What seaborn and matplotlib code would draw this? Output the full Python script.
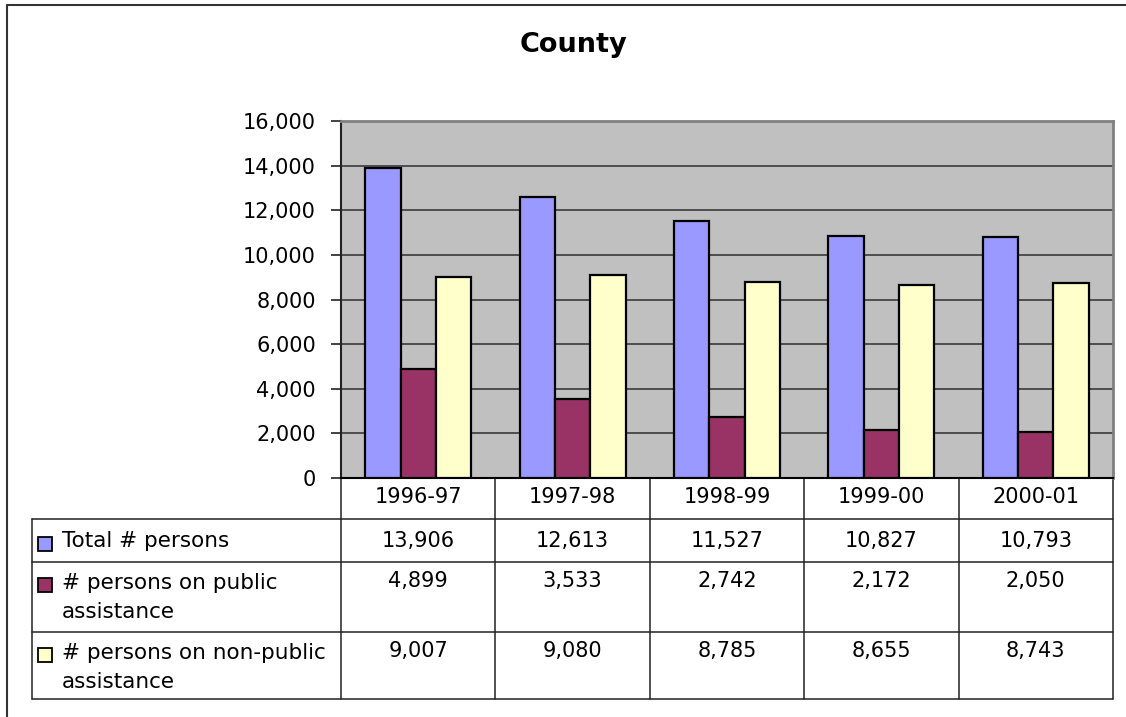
import matplotlib
matplotlib.use("Agg")
import matplotlib.pyplot as plt
import matplotlib.transforms as mtransforms
from matplotlib.lines import Line2D
from matplotlib.patches import Rectangle
from matplotlib.ticker import FuncFormatter
import pandas as pd
import seaborn as sns

# Data
years = ['1996-97', '1997-98', '1998-99', '1999-00', '2000-01']
series_names = ['Total # persons', '# persons on public assistance',
                '# persons on non-public assistance']
table_labels = [['Total # persons'],
                ['# persons on public', 'assistance'],
                ['# persons on non-public', 'assistance']]
total = [13906, 12613, 11527, 10827, 10793]
public = [4899, 3533, 2742, 2172, 2050]
non_public = [9007, 9080, 8785, 8655, 8743]
colors = ['#9999FF', '#993366', '#FFFFCC']

values = [total, public, non_public]
df = pd.DataFrame({
    'year': years * 3,
    'series': [s for s in series_names for _ in years],
    'value': total + public + non_public,
})

sns.set_style('white')
plt.rcParams['font.family'] = ['DejaVu Sans']
plt.rcParams['text.color'] = 'black'

W, H = 1126, 717
fig = plt.figure(figsize=(W / 100, H / 100), dpi=100)


def fx(px):
    return px / W


def fy(py):
    return 1 - py / H


# plot area in pixels
left, top, right, bottom = 341, 121, 1113, 478
ax = fig.add_axes([fx(left), fy(bottom), fx(right - left), (bottom - top) / H])

sns.barplot(data=df, x='year', y='value', hue='series', palette=colors,
            saturation=1, width=0.686, edgecolor='black', linewidth=1.6,
            legend=False, ax=ax, zorder=3)

ax.set_facecolor('#C0C0C0')
ax.set_xlim(-0.5, 4.5)
ax.set_ylim(0, 16000)
ax.set_yticks(range(0, 16001, 2000))
ax.yaxis.set_major_formatter(FuncFormatter(lambda v, p: f'{int(v):,}'))
ax.yaxis.grid(True, color='#3a3a3a', linewidth=1.2)
ax.set_axisbelow(True)
ax.set_xlabel('')
ax.set_ylabel('')
ax.set_xticks([])
ax.tick_params(axis='y', left=True, length=7, width=1.2, color='#222222',
               pad=11, labelsize=15, labelcolor='black')
for side in ['top', 'right']:
    ax.spines[side].set_color('#808080')
    ax.spines[side].set_linewidth(2)
ax.spines['left'].set_color('#222222')
ax.spines['left'].set_linewidth(1.5)
ax.spines['bottom'].set_color('black')
ax.spines['bottom'].set_linewidth(1.5)

# Data table below the axis
tr = mtransforms.blended_transform_factory(ax.transData, fig.transFigure)
line_kw = dict(color='#222222', linewidth=1.1)
row_lines = [519, 562, 632, 699]
for py in row_lines:
    fig.add_artist(Line2D([fx(32), fx(right)], [fy(py), fy(py)], **line_kw))
fig.add_artist(Line2D([fx(32), fx(32)], [fy(519), fy(699)], **line_kw))
for i in range(len(years) + 1):
    ax.add_artist(Line2D([i - 0.5, i - 0.5], [fy(bottom), fy(699)],
                         transform=tr, clip_on=False, **line_kw))

for i, yr in enumerate(years):
    ax.text(i, fy(497), yr, transform=tr, ha='center', va='center',
            fontsize=15, color='black')

value_rows = [541, 581, 651]
for vals, py in zip(values, value_rows):
    for i, v in enumerate(vals):
        ax.text(i, fy(py), f'{v:,}', transform=tr, ha='center', va='center',
                fontsize=15, color='black')

label_rows = [541, 583, 653]
square_rows = [544, 585, 655]
for lines, py, sy, c in zip(table_labels, label_rows, square_rows, colors):
    fig.add_artist(Rectangle((fx(38), fy(sy + 7)), fx(14), 14 / H,
                             facecolor=c, edgecolor='black', linewidth=1.3,
                             transform=fig.transFigure))
    for k, t in enumerate(lines):
        fig.text(fx(62), fy(py + 29 * k), t, ha='left', va='center',
                 fontsize=15.5, color='black')

# Title
fig.text(fx(573), fy(45), 'County', ha='center', va='center', fontsize=19.5,
         fontweight='bold', color='black')

# Chart border
fig.add_artist(Line2D([fx(7), 1], [fy(5), fy(5)], color='#333333', linewidth=1.5))
fig.add_artist(Line2D([fx(7), fx(7)], [fy(5), 0], color='#333333', linewidth=1.5))

fig.savefig('out.png', dpi=100)
